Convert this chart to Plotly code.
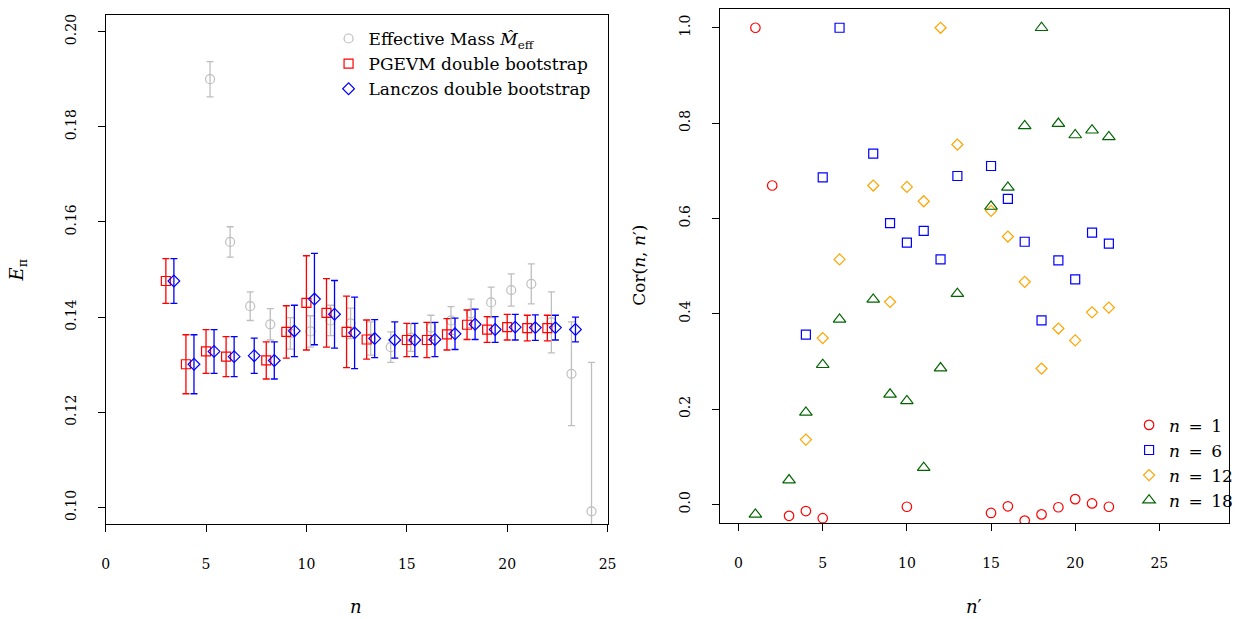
import plotly.graph_objects as go

# ---------------- Left panel data ----------------
eff_n = [5, 6, 7, 8, 9, 10, 11, 12, 13, 14, 15, 16, 17, 18, 19, 20, 21, 22, 23, 24]
eff_val = [0.1900, 0.1558, 0.1423, 0.1385, 0.1366, 0.1370, 0.1393, 0.1387, 0.1355, 0.1337,
           0.1357, 0.1378, 0.1393, 0.1408, 0.1431, 0.1457, 0.1470, 0.1389, 0.1281, 0.0992]
eff_err = [0.0037, 0.0032, 0.0030, 0.0033, 0.0033, 0.0033, 0.0032, 0.0032, 0.0035, 0.0032,
           0.0029, 0.0026, 0.0029, 0.0030, 0.0032, 0.0034, 0.0042, 0.0064, 0.0109, 0.0313]

pg_n = [3, 4, 5, 6, 8, 9, 10, 11, 12, 13, 15, 16, 17, 18, 19, 20, 21, 22]
pg_val = [0.1476, 0.1301, 0.1328, 0.1317, 0.1309, 0.1369, 0.1430, 0.1409, 0.1369, 0.1353,
          0.1352, 0.1352, 0.1364, 0.1384, 0.1374, 0.1379, 0.1377, 0.1377]
pg_err = [0.0047, 0.0062, 0.0046, 0.0042, 0.0039, 0.0055, 0.0099, 0.0072, 0.0075, 0.0041,
          0.0035, 0.0037, 0.0033, 0.0031, 0.0027, 0.0027, 0.0027, 0.0027]

lz_n = [3, 4, 5, 6, 7, 8, 9, 10, 11, 12, 13, 14, 15, 16, 17, 18, 19, 20, 21, 22, 23]
lz_val = [0.1476, 0.1301, 0.1328, 0.1317, 0.1319, 0.1309, 0.1371, 0.1438, 0.1406, 0.1367,
          0.1355, 0.1352, 0.1352, 0.1353, 0.1365, 0.1385, 0.1374, 0.1379, 0.1378, 0.1378, 0.1374]
lz_err = [0.0047, 0.0062, 0.0046, 0.0042, 0.0037, 0.0039, 0.0054, 0.0096, 0.0071, 0.0075,
          0.0040, 0.0038, 0.0035, 0.0036, 0.0033, 0.0032, 0.0027, 0.0027, 0.0027, 0.0026, 0.0026]

left_yticks = [0.10, 0.12, 0.14, 0.16, 0.18, 0.20]
left_xticks = [0, 5, 10, 15, 20, 25]

# ---------------- Right panel data ----------------
c1_x = [1, 2, 3, 4, 5, 10, 15, 16, 17, 18, 19, 20, 21, 22]
c1_y = [1.0, 0.669, -0.024, -0.014, -0.029, -0.005, -0.018, -0.004, -0.034, -0.021, -0.006, 0.011, 0.002, -0.005]

c6_x = [4, 5, 6, 8, 9, 10, 11, 12, 13, 15, 16, 17, 18, 19, 20, 21, 22]
c6_y = [0.356, 0.686, 1.0, 0.736, 0.590, 0.549, 0.574, 0.514, 0.689, 0.710, 0.641, 0.551,
        0.386, 0.512, 0.472, 0.570, 0.547]

c12_x = [4, 5, 6, 8, 9, 10, 11, 12, 13, 15, 16, 17, 18, 19, 20, 21, 22]
c12_y = [0.136, 0.349, 0.514, 0.669, 0.425, 0.666, 0.636, 1.0, 0.755, 0.616, 0.562, 0.467,
         0.285, 0.369, 0.344, 0.403, 0.413]

c18_x = [1, 3, 4, 5, 6, 8, 9, 10, 11, 12, 13, 15, 16, 17, 18, 19, 20, 21, 22]
c18_y = [-0.021, 0.051, 0.193, 0.293, 0.388, 0.430, 0.231, 0.217, 0.077, 0.286, 0.442,
         0.625, 0.665, 0.794, 1.0, 0.799, 0.775, 0.785, 0.771]

right_yticks = [0.0, 0.2, 0.4, 0.6, 0.8, 1.0]
right_xticks = [0, 5, 10, 15, 20, 25]

FONT = "DejaVu Serif"
GRAY = "#BEBEBE"

fig = go.Figure()

def errtrace(xs, ys, es, off, color, symbol, size, name):
    return go.Scatter(
        x=[v + off for v in xs], y=ys, mode="markers", name=name,
        marker=dict(symbol=symbol, size=size, color=color, line=dict(color=color, width=1.2)),
        error_y=dict(type="data", array=es, visible=True, color=color, thickness=1.3, width=3.5),
        xaxis="x", yaxis="y", legend="legend",
    )

fig.add_trace(errtrace(eff_n, eff_val, eff_err, 0.2, GRAY, "circle-open", 9,
                       "Effective Mass <i>M̂</i><sub>eff</sub>"))
fig.add_trace(errtrace(pg_n, pg_val, pg_err, 0.0, "#FF0000", "square-open", 9,
                       "PGEVM double bootstrap"))
fig.add_trace(errtrace(lz_n, lz_val, lz_err, 0.4, "#0000FF", "diamond-open", 9,
                       "Lanczos double bootstrap"))

def cortrace(xs, ys, color, symbol, size, name):
    return go.Scatter(
        x=xs, y=ys, mode="markers", name=name,
        marker=dict(symbol=symbol, size=size, color=color, line=dict(color=color, width=1.2)),
        xaxis="x2", yaxis="y2", legend="legend2",
    )

EQ = "\u2002=\u2002"
fig.add_trace(cortrace(c1_x, c1_y, "#FF0000", "circle-open", 9.5, "<i>n</i>" + EQ + "1"))
fig.add_trace(cortrace(c6_x, c6_y, "#0000FF", "square-open", 9, "<i>n</i>" + EQ + "6"))
fig.add_trace(cortrace(c12_x, c12_y, "#FFA500", "diamond-open", 8.5, "<i>n</i>" + EQ + "12"))
fig.add_trace(cortrace(c18_x, c18_y, "#006400", "triangle-up-open", 11, "<i>n</i>" + EQ + "18"))

W, H = 1239, 619
axcommon = dict(showline=True, linecolor="black", linewidth=1, mirror=True,
                ticks="outside", ticklen=7, tickcolor="black", tickwidth=1,
                showgrid=False, zeroline=False,
                tickfont=dict(family=FONT, size=14, color="black"))

fig.update_layout(
    width=W, height=H,
    margin=dict(l=0, r=0, t=0, b=0),
    paper_bgcolor="white", plot_bgcolor="white",
    font=dict(family=FONT, color="black"),
    xaxis=dict(domain=[102.7 / W, 610 / W], range=[0, 25], tickvals=left_xticks,
               anchor="y", ticklabelstandoff=20, **axcommon),
    yaxis=dict(domain=[(H - 524) / H, (H - 14) / H], range=[0.0965, 0.2035],
               tickvals=left_yticks, tickformat=".2f", tickangle=-90,
               anchor="x", ticklabelstandoff=16, **axcommon),
    xaxis2=dict(domain=[723.3 / W, 1237.7 / W], range=[-1.12, 29.12], tickvals=right_xticks,
                anchor="y2", ticklabelstandoff=20, **axcommon),
    yaxis2=dict(domain=[(H - 523.3) / H, (H - 7.7) / H], range=[-0.04, 1.04],
                tickvals=right_yticks, tickformat=".1f", tickangle=-90,
                anchor="x2", ticklabelstandoff=16, **axcommon),
    legend=dict(x=328 / W, xanchor="left", y=(H - 20) / H, yanchor="top",
                bgcolor="rgba(0,0,0,0)", borderwidth=0,
                font=dict(family=FONT, size=17, color="black"), tracegroupgap=0),
    legend2=dict(x=1137 / W, xanchor="left", y=(H - 407) / H, yanchor="top",
                 bgcolor="rgba(0,0,0,0)", borderwidth=0,
                 font=dict(family=FONT, size=17, color="black"), tracegroupgap=0),
    annotations=[
        dict(text="<i>n</i>", x=356 / W, y=(H - 606) / H, xref="paper", yref="paper",
             xanchor="center", yanchor="middle",
             showarrow=False, font=dict(family=FONT, size=18)),
        dict(text="<i>E</i><sub>π</sub>", x=14 / W, y=(H - 270) / H, xref="paper", yref="paper",
             xanchor="center", yanchor="middle",
             showarrow=False, textangle=-90, font=dict(family=FONT, size=18)),
        dict(text="<i>n</i>′", x=980 / W, y=(H - 606) / H, xref="paper", yref="paper",
             xanchor="center", yanchor="middle",
             showarrow=False, font=dict(family=FONT, size=18)),
        dict(text="Cor(<i>n</i>, <i>n</i>′)", x=641 / W, y=(H - 265) / H, xref="paper", yref="paper",
             xanchor="center", yanchor="middle",
             showarrow=False, textangle=-90, font=dict(family=FONT, size=17)),
    ],
)

fig.write_html("out.html")
